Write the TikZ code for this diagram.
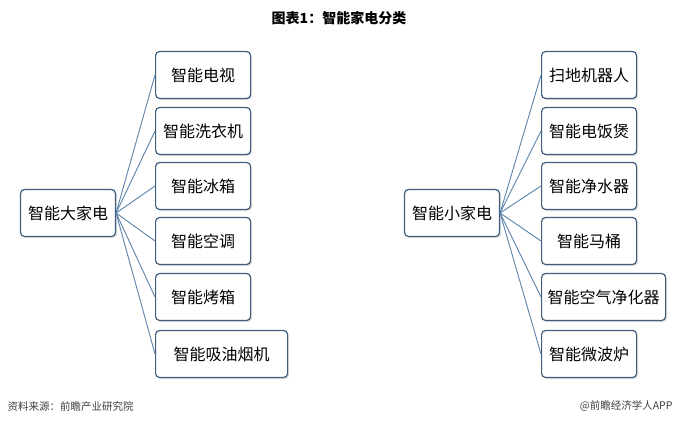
\documentclass[tikz,border=0pt]{standalone}
\usepackage{fontspec}
\setmainfont{Noto Sans CJK SC}
\usetikzlibrary{shadows}
\definecolor{boxline}{RGB}{65,95,125}
\definecolor{linkline}{RGB}{90,130,170}
\tikzset{
  box/.style={draw=boxline,line width=1.2pt,rounded corners=4pt,fill=white,
    minimum width=95pt,minimum height=47pt,inner xsep=6pt,font=\fontsize{16pt}{16pt}\selectfont,
    drop shadow={shadow xshift=1.5pt,shadow yshift=-1.5pt,fill=black!25}},
  link/.style={draw=linkline,line width=0.9pt}
}
\begin{document}
\begin{tikzpicture}[x=1pt,y=-1pt]
\useasboundingbox (0,0) rectangle (678,426);
% title
\node (title) at (339,18) {\fontsize{14pt}{14pt}\selectfont\bfseries 图表1：智能家电分类};
% large appliances
\node[box] (big) at (68,213) {智能大家电};
\foreach \n/\y/\t in {b1/75/智能电视, b2/131/智能洗衣机, b3/186/智能冰箱,
                     b4/241/智能空调, b5/297/智能烤箱}
  {\node[box,anchor=west] (\n) at (155,\y) {\t};
   \draw[link] (big.east) -- (\n.west);}
\node[box,anchor=west,minimum width=132pt] (b6) at (155,354) {智能吸油烟机};
\draw[link] (big.east) -- (b6.west);
% small appliances
\node[box] (small) at (452,213) {智能小家电};
\foreach \n/\y/\t in {s1/75/扫地机器人, s2/131/智能电饭煲, s3/186/智能净水器,
                     s4/241/智能马桶, s5/297/智能空气净化器, s6/354/智能微波炉}
  {\node[box,anchor=west] (\n) at (541,\y) {\t};
   \draw[link] (small.east) -- (\n.west);}
% footer
\node[anchor=west,font=\fontsize{10.5pt}{10.5pt}\selectfont,text=black!75] (src) at (4,406) {资料来源：前瞻产业研究院};
\node[anchor=east,font=\fontsize{10.5pt}{10.5pt}\selectfont,text=black!75] (app) at (676,406) {@前瞻经济学人APP};
\end{tikzpicture}
\end{document}
